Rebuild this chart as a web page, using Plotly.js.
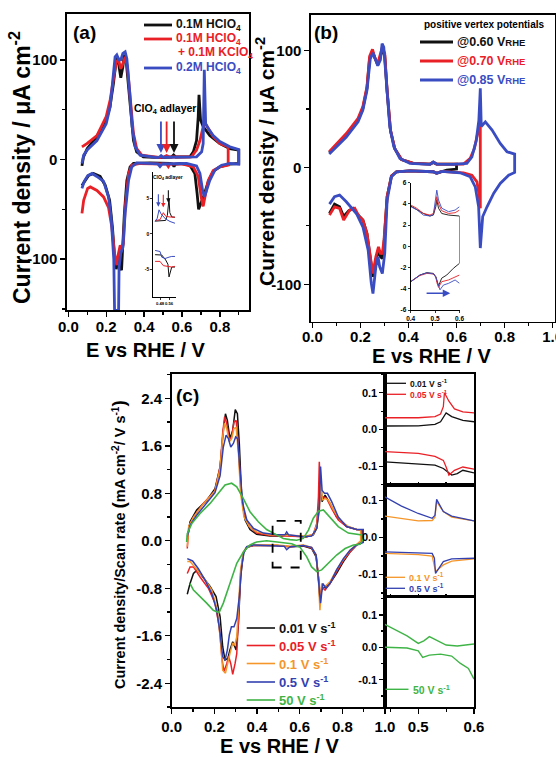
<!DOCTYPE html>
<html><head><meta charset="utf-8">
<script src="https://cdn.plot.ly/plotly-3.0.1.min.js"></script>
<style>html,body{margin:0;padding:0;background:#fff}#plot{width:556px;height:758px}</style>
</head><body><div id="plot"></div>
<script>
// ---------------- DATA ----------------
// Panel (a): [E (V vs RHE), j (uA cm-2)]
const aHClO4_01 = [[0.072,-6.4],[0.08,2.7],[0.10,11],[0.15,23],[0.20,40],[0.22,53],[0.238,76],[0.253,100],[0.26,103],[0.27,93],[0.277,82],[0.288,93],[0.295,105],[0.305,100],[0.318,73],[0.33,43],[0.344,19],[0.361,7.7],[0.396,2.7],[0.484,2],[0.545,2.5],[0.556,4.6],[0.567,2.5],[0.642,2.7],[0.66,7.7],[0.677,19],[0.686,43],[0.69,65],[0.698,40],[0.712,33],[0.747,24],[0.80,16],[0.853,11],[0.90,9.4],
  [0.90,-4],[0.853,-4.7],[0.80,-7.4],[0.765,-12],[0.739,-22],[0.716,-36],[0.695,-48],[0.688,-50],[0.68,-34],[0.668,-14],[0.642,-5.7],[0.59,-4],[0.565,-4.5],[0.558,-7],[0.55,-4.5],[0.537,-4],[0.432,-3.4],[0.344,-4],[0.326,-7.4],[0.309,-21],[0.296,-54],[0.288,-88],[0.281,-111],[0.274,-108],[0.267,-98],[0.26,-104],[0.253,-110],[0.244,-98],[0.233,-68],[0.218,-41],[0.195,-26],[0.168,-17],[0.133,-14],[0.107,-16],[0.089,-21],[0.072,-26]];
const aHClO4_KClO4 = [[0.072,12.7],[0.098,16],[0.151,24],[0.2,43],[0.221,60],[0.239,83],[0.253,98],[0.265,100],[0.277,91],[0.288,96],[0.3,103],[0.312,93],[0.326,60],[0.344,26],[0.361,11],[0.388,4.4],[0.484,2],[0.505,2.5],[0.519,4],[0.533,2.5],[0.65,2.7],[0.677,9.4],[0.695,19],[0.712,33],[0.721,37],[0.739,31],[0.765,23],[0.8,16],[0.844,12.7],
  [0.844,-5.7],[0.8,-7.4],[0.765,-11],[0.739,-21],[0.721,-38],[0.712,-47],[0.702,-38],[0.686,-17],[0.66,-7.4],[0.607,-4.7],[0.535,-4.7],[0.528,-7],[0.52,-4.7],[0.379,-4],[0.335,-5.7],[0.318,-14],[0.3,-48],[0.291,-84],[0.282,-91],[0.274,-86],[0.265,-94],[0.256,-106],[0.244,-94],[0.23,-68],[0.212,-48],[0.186,-37.5],[0.151,-31],[0.116,-27.5],[0.102,-29],[0.081,-41],[0.072,-54]];
const aHClO4_02 = [[0.072,-4],[0.081,4.4],[0.102,10],[0.151,19],[0.2,36],[0.221,53],[0.235,80],[0.247,103],[0.256,105],[0.267,100],[0.277,100],[0.288,106.5],[0.3,108],[0.309,101],[0.323,70],[0.337,33],[0.353,12.7],[0.379,4.4],[0.467,2],[0.48,2.3],[0.49,4],[0.50,2.3],[0.677,2.7],[0.704,7.7],[0.712,16],[0.718,90],[0.725,36],[0.739,31],[0.765,24],[0.8,18],[0.853,12.7],[0.9,10],
  [0.9,-4.7],[0.853,-4],[0.809,-5.7],[0.774,-10.7],[0.747,-21],[0.73,-32],[0.719,-37.5],[0.709,-31],[0.695,-14],[0.677,-6.4],[0.625,-4],[0.495,-4.5],[0.484,-7],[0.472,-4.3],[0.361,-3.4],[0.335,-7.4],[0.318,-21],[0.3,-54],[0.288,-88],[0.277,-94],[0.268,-108],[0.264,-175],[0.259,-175],[0.255,-150],[0.251,-175],[0.246,-175],[0.24,-100],[0.226,-58],[0.212,-37.5],[0.186,-22],[0.151,-17],[0.125,-14],[0.102,-16.4],[0.084,-22],[0.072,-29]];
// Panel (a) inset: ClO4 adlayer region, [E, j (uA cm-2)]
const aInBlackUp = [[0.436,1.8],[0.5,1.85],[0.53,1.9],[0.545,2.6],[0.56,5.0],[0.567,3.0],[0.584,2.4],[0.613,2.35]];
const aInRedUp = [[0.436,1.9],[0.48,2.0],[0.5,2.7],[0.509,3.0],[0.53,2.5],[0.56,2.4],[0.613,2.35]];
const aInBlueUp = [[0.436,1.75],[0.455,2.2],[0.471,3.4],[0.49,2.8],[0.53,2.1],[0.569,1.75],[0.613,1.5]];
const aInBlackDown = [[0.436,-2.95],[0.495,-3.0],[0.53,-3.7],[0.55,-4.3],[0.56,-6.1],[0.574,-5.0],[0.584,-4.7],[0.613,-4.7]];
const aInRedDown = [[0.436,-3.9],[0.48,-3.9],[0.509,-4.5],[0.539,-4.6],[0.56,-4.7],[0.584,-4.7],[0.613,-4.6]];
const aInBlueDown = [[0.436,-2.35],[0.48,-2.5],[0.495,-3.3],[0.524,-3.5],[0.56,-3.3],[0.584,-3.2],[0.613,-3.2]];
const aArrowE = [0.489, 0.519, 0.558];   // ClO4 adlayer peak positions (blue, red, black)
const aInArrowE = [0.465, 0.509, 0.554];
const aInArrowJ = [3.85, 3.75, 4.4];

// Panel (b): positive vertex potentials
const bV060 = [[0.07,12.6],[0.099,18.8],[0.141,27.7],[0.19,40.5],[0.21,50.5],[0.227,67.6],[0.238,93],[0.25,99],[0.261,92.5],[0.272,87.6],[0.283,94.7],[0.291,101],[0.301,96],[0.311,64.8],[0.325,31.4],[0.343,16],[0.371,6.8],[0.42,3.4],[0.49,2.9],[0.503,4.3],[0.517,2.9],[0.6,2.9],
  [0.6,-1.4],[0.559,-2.3],[0.517,-5],[0.503,-3.7],[0.406,-2.9],[0.35,-3.7],[0.329,-7.4],[0.311,-25],[0.298,-65],[0.291,-78],[0.283,-76.5],[0.275,-70.8],[0.264,-79],[0.252,-93.6],[0.243,-80.8],[0.227,-56.5],[0.21,-45],[0.19,-40.8],[0.169,-35],[0.152,-37],[0.13,-42],[0.113,-33.7],[0.092,-31.4],[0.071,-39.4]];
const bV070 = [[0.07,13.4],[0.099,20],[0.141,29],[0.19,42],[0.21,52],[0.227,69],[0.238,95],[0.25,101],[0.261,93],[0.272,89],[0.283,96],[0.291,103],[0.301,97.6],[0.311,66],[0.325,32],[0.343,16],[0.371,6.8],[0.42,3.4],[0.49,2.9],[0.503,4.6],[0.517,2.9],[0.629,2.9],[0.657,7.7],[0.674,16],[0.688,29],[0.699,39],
  [0.699,-35],[0.695,-25],[0.685,-12.3],[0.664,-6.6],[0.629,-4.6],[0.538,-3.4],[0.517,-5],[0.503,-3.7],[0.406,-2.9],[0.35,-3.7],[0.329,-7.4],[0.311,-25],[0.298,-62],[0.291,-73.6],[0.283,-73.6],[0.275,-68],[0.264,-76.5],[0.252,-90.8],[0.243,-79],[0.227,-56.5],[0.21,-45],[0.194,-42],[0.176,-35],[0.155,-36.5],[0.13,-45],[0.113,-35],[0.092,-33.7],[0.071,-40.8]];
const bV085 = [[0.07,11.4],[0.099,17.7],[0.141,26],[0.19,39],[0.21,49],[0.227,66],[0.241,93],[0.252,98],[0.264,92],[0.272,87],[0.283,92],[0.29,106],[0.297,103],[0.308,72],[0.322,35],[0.339,17.7],[0.364,7.7],[0.406,3.4],[0.49,2.6],[0.503,4.6],[0.517,2.9],[0.587,2.6],[0.643,3.4],[0.664,9],[0.682,23],[0.693,40.5],[0.699,67.6],[0.703,35],[0.72,39],[0.748,32],[0.782,20.5],[0.81,13.4],[0.842,11.4],
  [0.842,-4.3],[0.817,-6.6],[0.782,-13.7],[0.755,-22],[0.727,-33.7],[0.709,-42],[0.699,-69],[0.692,-33.7],[0.678,-16.6],[0.657,-8],[0.615,-4.6],[0.538,-3.4],[0.517,-5],[0.503,-3.7],[0.406,-2.9],[0.35,-3.7],[0.329,-8],[0.311,-28],[0.301,-73.6],[0.291,-90.8],[0.28,-85],[0.273,-76.5],[0.264,-85],[0.252,-108],[0.245,-99],[0.232,-70.8],[0.21,-50.8],[0.183,-39.4],[0.141,-29.4],[0.113,-23.7],[0.092,-25],[0.071,-31.4]];
// Panel (b) inset
const bInV060 = [[0.4,3.8],[0.425,3.5],[0.452,3.1],[0.479,2.86],[0.493,2.95],[0.503,3.74],[0.507,4.37],[0.514,3.6],[0.527,3.1],[0.555,2.95],[0.6,2.86],
  [0.6,-1.6],[0.575,-2.07],[0.548,-2.7],[0.527,-3.0],[0.514,-3.74],[0.507,-3.3],[0.503,-2.86],[0.493,-2.55],[0.466,-2.48],[0.438,-2.7],[0.4,-3.33]];
const bInV070Up = [[0.4,3.9],[0.425,3.58],[0.452,3.1],[0.479,2.95],[0.493,3.1],[0.503,4.0],[0.507,4.68],[0.514,4.0],[0.527,3.36],[0.555,3.1],[0.582,3.17],[0.6,3.42]];
const bInV070Down = [[0.6,-2.7],[0.582,-2.86],[0.555,-3.17],[0.527,-3.33],[0.514,-3.87],[0.507,-3.4],[0.503,-2.9],[0.493,-2.6],[0.466,-2.55],[0.438,-2.75],[0.4,-3.33]];
const bInV085Up = [[0.4,3.74],[0.425,3.45],[0.452,2.95],[0.479,2.86],[0.493,3.0],[0.503,4.37],[0.507,5.3],[0.514,4.37],[0.527,3.6],[0.555,3.27],[0.582,3.42],[0.6,3.74]];
const bInV085Down = [[0.6,-3.49],[0.582,-3.17],[0.555,-3.49],[0.534,-3.65],[0.52,-4.1],[0.514,-3.7],[0.503,-2.9],[0.493,-2.6],[0.466,-2.5],[0.438,-2.7],[0.4,-3.33]];
const bInArrow = [0.459, 0.562, -4.43];   // scan direction arrow: E start, E end, j

// Panel (c): [E, j/v (mA cm-2 / V s-1)]
const c001 = [[0.073,0.01],[0.086,0.32],[0.117,0.52],[0.164,0.68],[0.203,0.88],[0.227,1.25],[0.242,1.86],[0.252,2.14],[0.261,2.03],[0.273,1.72],[0.286,1.86],[0.298,2.21],[0.308,2.14],[0.317,1.64],[0.328,0.74],[0.344,0.35],[0.367,0.19],[0.398,0.11],[0.461,0.08],[0.516,0.08],[0.539,0.1],[0.555,0.08],[0.633,0.07],[0.664,0.1],[0.68,0.21],[0.692,0.63],[0.698,1.02],[0.705,0.66],[0.719,0.77],[0.742,0.63],[0.773,0.4],[0.82,0.24],[0.867,0.19],[0.895,0.18],
  [0.895,-0.02],[0.867,-0.07],[0.836,-0.19],[0.805,-0.35],[0.773,-0.55],[0.742,-0.72],[0.719,-0.77],[0.703,-0.83],[0.695,-1.0],[0.688,-0.61],[0.677,-0.27],[0.656,-0.13],[0.617,-0.09],[0.555,-0.1],[0.492,-0.08],[0.383,-0.08],[0.352,-0.11],[0.336,-0.21],[0.323,-0.61],[0.313,-1.39],[0.302,-1.84],[0.294,-1.78],[0.286,-1.7],[0.273,-1.84],[0.263,-1.98],[0.25,-2.01],[0.239,-1.78],[0.227,-1.28],[0.208,-0.94],[0.18,-0.77],[0.148,-0.61],[0.12,-0.49],[0.102,-0.55],[0.086,-0.72],[0.073,-0.9]];
const c005 = [[0.073,-0.13],[0.08,0.24],[0.102,0.4],[0.148,0.63],[0.203,0.84],[0.227,1.25],[0.239,1.81],[0.248,2.09],[0.258,1.98],[0.27,1.7],[0.281,1.75],[0.292,2.0],[0.302,2.03],[0.313,1.58],[0.323,0.91],[0.339,0.46],[0.364,0.24],[0.398,0.13],[0.461,0.09],[0.555,0.08],[0.633,0.07],[0.664,0.11],[0.68,0.29],[0.688,0.74],[0.692,1.33],[0.698,0.74],[0.711,0.74],[0.727,0.71],[0.75,0.54],[0.781,0.35],[0.82,0.24],[0.867,0.19],[0.891,0.18],
  [0.891,-0.02],[0.867,-0.07],[0.836,-0.19],[0.805,-0.33],[0.773,-0.52],[0.742,-0.72],[0.719,-0.83],[0.703,-0.77],[0.695,-1.0],[0.688,-0.61],[0.677,-0.24],[0.656,-0.12],[0.617,-0.08],[0.555,-0.1],[0.492,-0.08],[0.383,-0.08],[0.352,-0.11],[0.336,-0.2],[0.323,-0.55],[0.314,-1.34],[0.305,-1.9],[0.297,-2.07],[0.286,-2.25],[0.277,-2.07],[0.267,-1.95],[0.258,-2.07],[0.245,-2.2],[0.236,-2.0],[0.223,-1.45],[0.203,-1.05],[0.172,-0.8],[0.133,-0.61],[0.102,-0.44],[0.086,-0.44],[0.073,-0.55]];
const c01 = [[0.073,-0.1],[0.08,0.24],[0.102,0.4],[0.148,0.62],[0.203,0.84],[0.227,1.22],[0.239,1.75],[0.248,1.98],[0.258,1.89],[0.27,1.67],[0.281,1.72],[0.292,1.89],[0.302,1.91],[0.313,1.47],[0.323,0.8],[0.339,0.4],[0.364,0.24],[0.398,0.15],[0.461,0.1],[0.555,0.09],[0.633,0.08],[0.664,0.11],[0.68,0.26],[0.692,0.52],[0.7,0.97],[0.706,0.69],[0.719,0.71],[0.734,0.69],[0.758,0.52],[0.789,0.35],[0.828,0.24],[0.867,0.19],[0.886,0.18],
  [0.886,0.0],[0.867,-0.06],[0.836,-0.16],[0.805,-0.31],[0.773,-0.49],[0.742,-0.69],[0.719,-0.77],[0.703,-0.72],[0.695,-1.17],[0.689,-0.72],[0.677,-0.24],[0.656,-0.11],[0.617,-0.07],[0.555,-0.09],[0.492,-0.07],[0.383,-0.07],[0.352,-0.1],[0.336,-0.19],[0.323,-0.49],[0.314,-1.05],[0.305,-1.62],[0.295,-1.76],[0.286,-1.72],[0.273,-1.9],[0.264,-2.04],[0.252,-2.23],[0.239,-2.18],[0.23,-1.73],[0.214,-1.17],[0.188,-0.83],[0.148,-0.61],[0.109,-0.44],[0.086,-0.35],[0.073,-0.35]];
const c05 = [[0.073,0.07],[0.086,0.26],[0.117,0.43],[0.164,0.63],[0.203,0.81],[0.227,1.1],[0.242,1.58],[0.255,1.78],[0.266,1.72],[0.277,1.58],[0.289,1.64],[0.3,1.75],[0.309,1.72],[0.32,1.19],[0.333,0.63],[0.352,0.35],[0.383,0.21],[0.43,0.13],[0.492,0.1],[0.531,0.1],[0.539,0.15],[0.548,0.1],[0.617,0.07],[0.656,0.08],[0.68,0.21],[0.692,0.52],[0.698,1.25],[0.705,0.85],[0.716,0.8],[0.73,0.8],[0.75,0.66],[0.781,0.4],[0.82,0.24],[0.867,0.19],[0.898,0.19],
  [0.898,-0.03],[0.867,-0.07],[0.836,-0.16],[0.805,-0.3],[0.773,-0.49],[0.742,-0.72],[0.723,-0.8],[0.708,-0.72],[0.698,-1.05],[0.689,-0.66],[0.677,-0.24],[0.656,-0.11],[0.617,-0.08],[0.555,-0.1],[0.539,-0.15],[0.527,-0.09],[0.461,-0.08],[0.383,-0.07],[0.352,-0.1],[0.339,-0.19],[0.328,-0.44],[0.317,-0.94],[0.305,-1.31],[0.292,-1.45],[0.28,-1.45],[0.27,-1.59],[0.261,-1.84],[0.25,-2.01],[0.239,-1.95],[0.227,-1.56],[0.211,-1.17],[0.188,-0.89],[0.156,-0.66],[0.125,-0.47],[0.098,-0.34],[0.073,-0.3]];
const c50 = [[0.07,-0.02],[0.073,0.12],[0.094,0.29],[0.133,0.46],[0.18,0.63],[0.219,0.8],[0.25,0.94],[0.281,0.97],[0.305,0.91],[0.336,0.71],[0.367,0.49],[0.406,0.32],[0.445,0.19],[0.492,0.1],[0.523,0.04],[0.555,0.02],[0.586,0.01],[0.617,0.04],[0.641,0.18],[0.664,0.38],[0.688,0.5],[0.711,0.52],[0.742,0.4],[0.781,0.24],[0.828,0.13],[0.867,0.11],[0.891,0.1],[0.895,0.01],[0.883,-0.06],
  [0.852,-0.07],[0.813,-0.13],[0.773,-0.24],[0.734,-0.38],[0.703,-0.49],[0.68,-0.52],[0.656,-0.44],[0.633,-0.27],[0.602,-0.11],[0.563,-0.05],[0.523,-0.03],[0.484,-0.01],[0.445,0.0],[0.398,-0.02],[0.367,-0.07],[0.336,-0.19],[0.305,-0.38],[0.273,-0.72],[0.242,-1.05],[0.222,-1.21],[0.195,-1.17],[0.164,-1.05],[0.133,-0.94],[0.102,-0.83],[0.086,-0.72]];
const cZoomBox = [0.473, 0.605, -0.45, 0.337];   // dashed window (E0, E1, j0, j1)
// Panel (c) zoomed insets (0.44-0.60 V)
const cIn001Up = [[0.44,0.0095],[0.5,0.01],[0.53,0.014],[0.54,0.021],[0.55,0.045],[0.56,0.035],[0.58,0.025],[0.6,0.021]];
const cIn001Down = [[0.44,-0.088],[0.5,-0.093],[0.53,-0.097],[0.545,-0.106],[0.56,-0.124],[0.57,-0.12],[0.58,-0.111],[0.6,-0.118]];
const cIn005Up = [[0.44,0.032],[0.5,0.032],[0.53,0.035],[0.54,0.042],[0.545,0.062],[0.547,0.1],[0.555,0.077],[0.565,0.056],[0.58,0.048],[0.6,0.045]];
const cIn005Down = [[0.44,-0.06],[0.5,-0.065],[0.53,-0.073],[0.545,-0.084],[0.55,-0.102],[0.555,-0.124],[0.565,-0.111],[0.58,-0.102],[0.6,-0.108]];
const cIn01Up = [[0.44,0.058],[0.5,0.045],[0.525,0.046],[0.53,0.055],[0.533,0.097],[0.545,0.07],[0.56,0.055],[0.6,0.045]];
const cIn01Down = [[0.44,-0.043],[0.5,-0.046],[0.525,-0.05],[0.531,-0.092],[0.545,-0.074],[0.56,-0.064],[0.6,-0.058]];
const cIn05Up = [[0.44,0.11],[0.47,0.085],[0.5,0.065],[0.525,0.052],[0.53,0.06],[0.533,0.103],[0.545,0.07],[0.56,0.058],[0.6,0.045]];
const cIn05Down = [[0.44,-0.039],[0.5,-0.041],[0.525,-0.043],[0.529,-0.056],[0.531,-0.097],[0.545,-0.065],[0.56,-0.058],[0.6,-0.056]];
const cIn50Up = [[0.44,0.071],[0.46,0.053],[0.48,0.035],[0.5,0.012],[0.51,0.02],[0.52,0.033],[0.53,0.025],[0.55,0.007],[0.57,0.004],[0.6,0.01]];
const cIn50Down = [[0.44,0.0],[0.48,-0.002],[0.5,-0.011],[0.508,-0.031],[0.52,-0.024],[0.54,-0.021],[0.56,-0.027],[0.575,-0.049],[0.59,-0.065],[0.6,-0.098]];

// Tick labels
const eTickVals = [0, 0.2, 0.4, 0.6, 0.8, 1.0];
const eTickText = ['0.0','0.2','0.4','0.6','0.8','1.0'];
const jTickVals = [-100, 0, 100];
const jTickText = ['-100','0','100'];
const cTickVals = [-2.4,-1.6,-0.8,0,0.8,1.6,2.4];
const cTickText = ['-2.4','-1.6','-0.8','0.0','0.8','1.6','2.4'];
const cInTickVals = [-0.1, 0, 0.1];
const cInTickText = ['-0.1','0.0','0.1'];
const cInETickVals = [0.5, 0.6];
const cInETickText = ['0.5','0.6'];
const aInTickX = [0.48, 0.56], aInTickXText = ['0.48','0.56'];
const aInTickY = [-5, 0, 5], aInTickYText = ['-5','0','5'];
const bInTickX = [0.4, 0.5, 0.6], bInTickXText = ['0.4','0.5','0.6'];
const bInTickY = [-6,-4,-2,0,2,4,6], bInTickYText = ['-6','-4','-2','0','2','4','6'];

// ---------------- STYLE / LAYOUT ----------------
const W = 556, H = 758;
const FONT = 'Liberation Sans, Arial, Helvetica, sans-serif';
const BLACK = '#111111', RED = '#ea2027', BLUE = '#3a4cc2', ORANGE = '#f5962a', GREEN = '#3fb446', CBLUE = '#3341b0';
const X = p => p / W, Y = p => 1 - p / H;

function tr(pairs, xa, ya, color, width) {
  return {type:'scatter', mode:'lines', x:pairs.map(p=>p[0]), y:pairs.map(p=>p[1]),
    xaxis:xa, yaxis:ya, line:{color:color, width:width}, hoverinfo:'skip', showlegend:false};
}
function axis(o) {
  const base = {showline:true, linecolor:'#000', linewidth:1.6, mirror:true, ticks:'outside', ticklen:5,
    tickwidth:1.4, tickcolor:'#000', showgrid:false, zeroline:false, fixedrange:true, tickmode:'array', tickangle:0,
    tickfont:{family:FONT, size:15, color:'#000', weight:700}};
  return Object.assign(base, o);
}
function minor(d, len) { return {tickmode:'linear', tick0:0, dtick:d, ticks:'outside', ticklen:len||3, tickwidth:1.2, tickcolor:'#000'}; }

const LW = 2.8;
const data = [
  tr(aHClO4_01,'x','y',BLACK,LW), tr(aHClO4_KClO4,'x','y',RED,LW), tr(aHClO4_02,'x','y',BLUE,LW),
  tr(aInBlackUp,'x2','y2',BLACK,1), tr(aInBlackDown,'x2','y2',BLACK,1),
  tr(aInRedUp,'x2','y2',RED,1), tr(aInRedDown,'x2','y2',RED,1),
  tr(aInBlueUp,'x2','y2',BLUE,1), tr(aInBlueDown,'x2','y2',BLUE,1),
  tr(bV060,'x3','y3',BLACK,LW), tr(bV070,'x3','y3',RED,LW), tr(bV085,'x3','y3',BLUE,LW),
  tr(bInV060,'x4','y4',BLACK,0.9), tr(bInV070Up,'x4','y4',RED,0.9), tr(bInV070Down,'x4','y4',RED,0.9),
  tr(bInV085Up,'x4','y4',BLUE,0.9), tr(bInV085Down,'x4','y4',BLUE,0.9),
  tr(c001,'x5','y5',BLACK,1.5), tr(c005,'x5','y5',RED,1.5), tr(c01,'x5','y5',ORANGE,1.5), tr(c05,'x5','y5',CBLUE,1.5), tr(c50,'x5','y5',GREEN,1.6),
  tr(cIn001Up,'x6','y6',BLACK,1.3), tr(cIn001Down,'x6','y6',BLACK,1.3), tr(cIn005Up,'x6','y6',RED,1.3), tr(cIn005Down,'x6','y6',RED,1.3),
  tr(cIn01Up,'x7','y7',ORANGE,1.3), tr(cIn01Down,'x7','y7',ORANGE,1.3), tr(cIn05Up,'x7','y7',CBLUE,1.3), tr(cIn05Down,'x7','y7',CBLUE,1.3),
  tr(cIn50Up,'x8','y8',GREEN,1.4), tr(cIn50Down,'x8','y8',GREEN,1.4)
];

const small = s => ({family:FONT, size:s, color:'#000', weight:700});
const layout = {
  width:W, height:H, margin:{l:0,r:0,t:0,b:0}, paper_bgcolor:'#fff', plot_bgcolor:'rgba(0,0,0,0)', showlegend:false,
  font:{family:FONT, color:'#000'},
  // (a)
  xaxis: axis({domain:[X(67),X(249)], anchor:'y', range:[-0.007,0.954], tickvals:eTickVals, ticktext:eTickText, minor:minor(0.1), ticklabelstandoff:-3}),
  yaxis: axis({domain:[Y(310),Y(14)], anchor:'x', range:[-151,146], tickvals:jTickVals, ticktext:jTickText, minor:minor(50)}),
  // (a) inset
  xaxis2: axis({domain:[X(153.3),X(176)], anchor:'y2', range:[0.42,0.622], mirror:false, linewidth:1, ticklen:2, tickwidth:0.8, tickvals:aInTickX, ticktext:aInTickXText, tickfont:small(4.2)}),
  yaxis2: axis({domain:[Y(296.7),Y(171.7)], anchor:'x2', range:[-8.9,8.8], mirror:false, linewidth:1, ticklen:2, tickwidth:0.8, tickvals:aInTickY, ticktext:aInTickYText, tickfont:small(5)}),
  // (b)
  xaxis3: axis({domain:[X(311),X(555)], anchor:'y3', range:[-0.006,1.01], tickvals:eTickVals, ticktext:eTickText, minor:minor(0.1), ticklabeloverflow:'allow', ticklabelstandoff:-4}),
  yaxis3: axis({domain:[Y(321.7),Y(15)], anchor:'x3', range:[-132,130.4], tickvals:jTickVals, ticktext:jTickText, minor:minor(50)}),
  // (b) inset
  xaxis4: axis({domain:[X(410.7),X(459.5)], anchor:'y4', range:[0.4,0.6], mirror:false, linewidth:1, ticklen:2, tickwidth:0.8, tickvals:bInTickX, ticktext:bInTickXText, tickfont:small(6.5)}),
  yaxis4: axis({domain:[Y(310),Y(182.7)], anchor:'x4', range:[-6,6], mirror:false, linewidth:1, ticklen:2, tickwidth:0.8, tickvals:bInTickY, ticktext:bInTickYText, tickfont:small(6.5)}),
  // (c) main
  xaxis5: axis({domain:[X(171.7),X(385)], anchor:'y5', range:[0,1.0], tickvals:eTickVals, ticktext:eTickText, minor:minor(0.1)}),
  yaxis5: axis({domain:[Y(707),Y(374)], anchor:'x5', range:[-2.8,2.81], tickvals:cTickVals, ticktext:cTickText, minor:minor(0.4)}),
  // (c) insets
  xaxis6: axis({domain:[X(385),X(474)], anchor:'y6', range:[0.4404,0.6], ticks:'inside', ticklen:3, tickvals:[0.45,0.5,0.55], showticklabels:false}),
  yaxis6: axis({domain:[Y(485),Y(374)], anchor:'x6', range:[-0.151,0.151], ticklen:4, tickvals:cInTickVals, ticktext:cInTickText, tickfont:small(11), minor:minor(0.05,2)}),
  xaxis7: axis({domain:[X(385),X(474)], anchor:'y7', range:[0.4404,0.6], ticks:'inside', ticklen:3, tickvals:[0.45,0.5,0.55], showticklabels:false}),
  yaxis7: axis({domain:[Y(596.7),Y(485)], anchor:'x7', range:[-0.16,0.142], ticklen:4, tickvals:cInTickVals, ticktext:cInTickText, tickfont:small(11), minor:minor(0.05,2)}),
  xaxis8: axis({domain:[X(385),X(474)], anchor:'y8', range:[0.4404,0.6], tickvals:cInETickVals, ticktext:cInETickText, minor:minor(0.05), ticklabeloverflow:'allow'}),
  yaxis8: axis({domain:[Y(707),Y(596.7)], anchor:'x8', range:[-0.184,0.156], ticklen:4, tickvals:cInTickVals, ticktext:cInTickText, tickfont:small(11), minor:minor(0.05,2)}),
  shapes: [],
  annotations: []
};

const S = layout.shapes, A = layout.annotations;
function legLine(x0, x1, y, color, w) { S.push({type:'line', xref:'paper', yref:'paper', x0:X(x0), x1:X(x1), y0:Y(y), y1:Y(y), line:{color:color, width:w}}); }
function txt(x, y, text, size, color, o) {
  A.push(Object.assign({xref:'paper', yref:'paper', x:X(x), y:Y(y), text:text, showarrow:false,
    font:{family:FONT, size:size, color:color, weight:700}, xanchor:'left', yanchor:'middle'}, o||{}));
}
function arrow(xr, yr, x, y, ax, ay, color, w, size) {
  A.push({xref:xr, yref:yr, x:x, y:y, ax:ax, ay:ay, text:'', showarrow:true, arrowhead:2, arrowsize:size, arrowwidth:w, arrowcolor:color});
}

// Panel labels
txt(84, 32, '(a)', 19, '#000', {xanchor:'center'});
txt(326, 32, '(b)', 19, '#000', {xanchor:'center'});
txt(187, 395, '(c)', 19, '#000', {xanchor:'center'});
// Axis titles
txt(146, 350, 'E vs RHE / V', 20, '#000', {xanchor:'center'});
txt(432, 356, 'E vs RHE / V', 20, '#000', {xanchor:'center'});
txt(280, 746, 'E vs RHE / V', 20, '#000', {xanchor:'center'});
txt(20, 168, 'Current density / μA cm<sup>-2</sup>', 23, '#000', {xanchor:'center', textangle:-90});
txt(265, 162, 'Current density / μA cm<sup>-2</sup>', 21, '#000', {xanchor:'center', textangle:-90});
txt(118, 545, 'Current density/Scan rate <span style="font-size:19px">(</span>mA cm<sup>-2</sup>/ V s<sup>-1</sup><span style="font-size:19px">)</span>', 14.5, '#000', {xanchor:'center', textangle:-90});

// Legend (a)
legLine(144, 172, 25, BLACK, LW); txt(174, 25, '0.1M HClO<sub>4</sub>', 12, BLACK);
legLine(144, 172, 39, RED, LW);   txt(174, 39, '0.1M HClO<sub>4</sub>', 12, RED);
txt(176, 53, '+ 0.1M KClO<sub>4</sub>', 12, RED);
legLine(144, 172, 68, BLUE, LW);  txt(174, 68, '0.2M HClO<sub>4</sub>', 12, BLUE);
// ClO4 adlayer annotation (a)
txt(165, 109, 'ClO<sub>4</sub> adlayer', 10.5, '#000', {xanchor:'center'});
const arrowCols = [BLUE, RED, BLACK];
aArrowE.forEach((e,i) => arrow('x','y', e, 6.6, 0, -33, arrowCols[i], 1.8, 1));
txt(168, 177, 'ClO<sub>4</sub> adlayer', 5, '#000', {xanchor:'center'});
aInArrowE.forEach((e,i) => arrow('x2','y2', e, aInArrowJ[i], 0, -14, arrowCols[i], 1.1, 0.8));

// Legend (b)
txt(421.5, 24, 'positive vertex potentials', 10, '#000');
const rhe = '<span style="font-size:9.5px">RHE</span>';
legLine(420, 453, 42, BLACK, LW); txt(455, 42, '@0.60 V' + rhe, 12.5, BLACK);
legLine(420, 453, 61, RED, LW);   txt(455, 61, '@0.70 V' + rhe, 12.5, RED);
legLine(420, 453, 80, BLUE, LW);  txt(455, 80, '@0.85 V' + rhe, 12.5, BLUE);
// (b) inset scan arrow
A.push({xref:'x4', yref:'y4', axref:'x4', ayref:'y4', x:bInArrow[1], y:bInArrow[2], ax:bInArrow[0], ay:bInArrow[2], text:'', showarrow:true, arrowhead:2, arrowsize:1, arrowwidth:1.5, arrowcolor:BLUE});

// Legend (c)
const cLeg = [['0.01', BLACK, 628], ['0.05', RED, 645.5], ['0.1', ORANGE, 663.5], ['0.5', CBLUE, 682], ['50', GREEN, 700]];
cLeg.forEach(r => { legLine(246.7, 275, r[2], r[1], 1.6); txt(277, r[2], r[0] + ' V s<sup>-1</sup>', 13, r[1]); });
// Dashed window
S.push({type:'rect', xref:'x5', yref:'y5', x0:cZoomBox[0], x1:cZoomBox[1], y0:cZoomBox[2], y1:cZoomBox[3], line:{color:'#000', width:1.8, dash:'dash'}});
// Inset legends (c)
legLine(386.7, 406, 383.3, BLACK, 1.3); txt(408, 383.3, '0.01 V s<sup>-1</sup>', 8.5, BLACK);
legLine(386.7, 406, 394.3, RED, 1.3);   txt(408, 394.3, '0.05 V s<sup>-1</sup>', 8.5, RED);
legLine(385.5, 405, 577.3, ORANGE, 1.3); txt(407, 577.3, '0.1 V s<sup>-1</sup>', 9, ORANGE);
legLine(385.5, 405, 588.3, CBLUE, 1.3);  txt(407, 588.3, '0.5 V s<sup>-1</sup>', 9, CBLUE);
legLine(385.5, 408.5, 689.3, GREEN, 1.4); txt(411, 689.3, '50 V s<sup>-1</sup>', 10.5, GREEN);

Plotly.newPlot('plot', data, layout, {staticPlot:true, displayModeBar:false});
</script>
</body></html>
